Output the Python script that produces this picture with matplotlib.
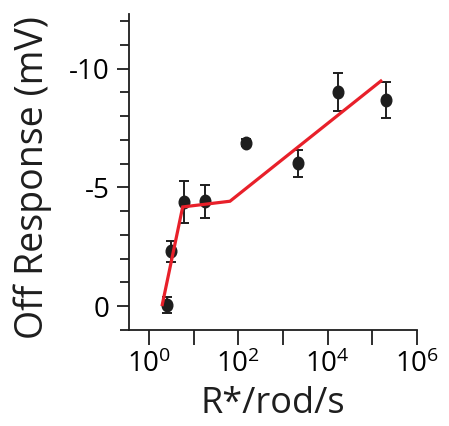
import matplotlib
matplotlib.use("Agg")
import matplotlib.pyplot as plt
import numpy as np
from matplotlib.path import Path
from matplotlib.transforms import Affine2D
from matplotlib.ticker import NullFormatter

plt.rcParams['font.family'] = ['Open Sans', 'DejaVu Sans']
plt.rcParams['mathtext.fontset'] = 'custom'
plt.rcParams['mathtext.rm'] = 'Open Sans'

# Measured off responses (mV) vs. light intensity (R*/rod/s)
intensity = [2.45, 3.0, 6.1, 17.8, 145, 2200, 17400, 2.0e5]
response = [-0.05, -2.31, -4.39, -4.42, -6.89, -6.01, -9.0, -8.68]
response_err = [0.35, 0.44, 0.9, 0.7, 0.15, 0.56, 0.8, 0.76]

# Piecewise-linear fit in log intensity
fit_intensity = [1.95, 5.6, 64.5, 1.57e5]
fit_response = [-0.07, -4.18, -4.42, -9.48]

ytick_values = [-10, -5, 0]
ytick_labels = ['-10', '-5', '0']
xtick_values = [1e0, 1e2, 1e4, 1e6]
xtick_labels = [r'$\mathregular{10^{0}}$', r'$\mathregular{10^{2}}$',
                r'$\mathregular{10^{4}}$', r'$\mathregular{10^{6}}$']

fig = plt.figure(figsize=(4.49, 4.26), dpi=100)
ax = fig.add_axes([0.288, 0.2254, 0.640, 0.7416])

ink = '#1e1e1e'
ellipse = Path.unit_circle().transformed(Affine2D().scale(0.85, 1.0))

ax.errorbar(intensity, response, yerr=response_err, fmt='none',
            ecolor=ink, elinewidth=1.4, capsize=3.6, capthick=1.4, zorder=2)
ax.plot(intensity, response, linestyle='none', marker=ellipse,
        markersize=9, color=ink, zorder=3)
ax.plot(fit_intensity, fit_response, color='#e8202a', lw=2.3, zorder=4,
        solid_joinstyle='miter')

ax.set_xscale('log')
ax.set_xlim(10 ** -0.45, 1e6)
ax.set_ylim(1.0, -12.3)

ax.set_xticks(xtick_values)
ax.set_xticklabels(xtick_labels)
ax.set_xticks([1e1, 1e3, 1e5], minor=True)
ax.xaxis.set_minor_formatter(NullFormatter())
ax.tick_params(axis='x', which='both', direction='out', length=11,
               width=1.3, color=ink, labelsize=20, pad=4)
ax.set_yticks(ytick_values)
ax.set_yticklabels(ytick_labels)
ax.set_yticks([v for v in range(-12, 2) if v not in ytick_values], minor=True)
ax.tick_params(axis='y', which='major', direction='out', length=9,
               width=1.3, color=ink, labelsize=20, pad=5)
ax.tick_params(axis='y', which='minor', direction='out', length=6.5,
               width=1.3, color=ink)

for side in ('top', 'right'):
    ax.spines[side].set_visible(False)
for side in ('left', 'bottom'):
    ax.spines[side].set_linewidth(1.3)
    ax.spines[side].set_color(ink)

ax.set_xlabel('R*/rod/s', fontsize=26, color=ink, labelpad=5)
ax.set_ylabel('Off Response (mV)', fontsize=27, color=ink)
ax.yaxis.set_label_coords(-0.27, 0.483)

fig.savefig('out.png', dpi=100)
